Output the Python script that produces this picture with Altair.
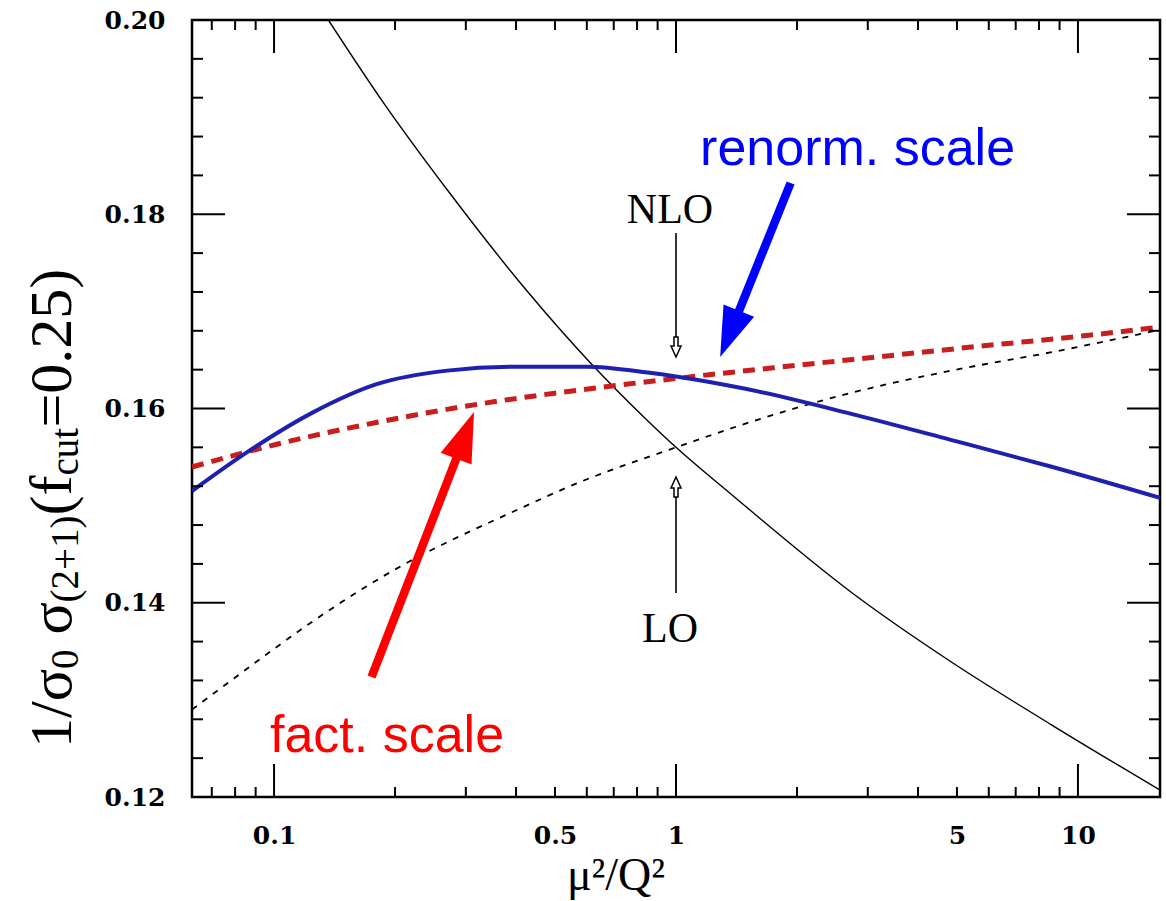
import altair as alt
import pandas as pd

# ---------------- data ----------------
# LO, renormalisation-scale variation (thin solid black)
lo_ren_x = [0.1365, 0.1852, 0.2723, 0.424, 0.6095, 0.8463, 1.0, 1.388, 2.723, 4.842, 8.61, 16.0]
lo_ren_y = [0.2000, 0.19176, 0.18229, 0.17220, 0.16479, 0.15882, 0.1560, 0.15099, 0.14111, 0.13390, 0.12741, 0.12072]

# LO, factorisation-scale variation (thin dashed black)
lo_fac_x = [0.0625, 0.0737, 0.0966, 0.124, 0.164, 0.216, 0.288, 0.385, 0.575, 1.0, 1.53, 2.72, 4.84, 8.6, 16.0]
lo_fac_y = [0.1290, 0.1312, 0.1348, 0.1380, 0.1413, 0.1442, 0.1468, 0.1492, 0.1524, 0.1560, 0.1586, 0.1616, 0.1639, 0.1658, 0.1681]

# NLO, renormalisation-scale variation (thick solid blue)
nlo_ren_x = [0.0625, 0.085, 0.125, 0.18, 0.27, 0.4, 0.6, 0.85, 1.0, 1.5, 2.7, 4.8, 8.6, 16.0]
nlo_ren_y = [0.1515, 0.1554, 0.1596, 0.1625, 0.1639, 0.1643, 0.1643, 0.1637, 0.1633, 0.1620, 0.1595, 0.1568, 0.1540, 0.1508]

# NLO, factorisation-scale variation (thick dashed red)
nlo_fac_x = [0.0625, 0.1023, 0.182, 0.3236, 0.5754, 1.023, 1.82, 3.236, 5.754, 10.23, 16.0]
nlo_fac_y = [0.15398, 0.15635, 0.15861, 0.16046, 0.16190, 0.16314, 0.16427, 0.16535, 0.16643, 0.16746, 0.16839]

# axis ticks / labels
x_label_vals = [0.1, 0.5, 1, 5, 10]
x_major = [0.1, 1, 10]
x_minor = [0.07, 0.08, 0.09, 0.2, 0.3, 0.4, 0.5, 0.6, 0.7, 0.8, 0.9,
           2, 3, 4, 5, 6, 7, 8, 9]
y_label_vals = [0.12, 0.14, 0.16, 0.18, 0.20]
y_major = [0.14, 0.16, 0.18]
y_minor = [0.124, 0.128, 0.132, 0.136, 0.144, 0.148, 0.152, 0.156,
           0.164, 0.168, 0.172, 0.176, 0.184, 0.188, 0.192, 0.196]

# arrows (data coordinates): tail, end of shaft, tip, head angle
big_arrows = pd.DataFrame({
    "x": [1.928, 0.1748], "y": [0.18322, 0.13235],
    "x2": [1.429, 0.2851], "y2": [0.16988, 0.15501],
    "tx": [1.288, 0.3144], "ty": [0.16530, 0.15964],
    "ang": [201.9, 21.0], "col": ["#0000ff", "#ff0000"],
})
small_arrows = pd.DataFrame({
    "x": [1.0, 1.0], "y": [0.17807, 0.14100], "y2": [0.16736, 0.15089],
    "ty": [0.16530, 0.15295], "ang": [180.0, 0.0],
})

# text labels
lbl_serif = pd.DataFrame({"t": ["NLO", "LO"], "x": [1.0, 1.0], "y": [0.17910, 0.13596]})
lbl_blue = pd.DataFrame({"t": ["renorm. scale"], "x": [1.148], "y": [0.18507]})
lbl_red = pd.DataFrame({"t": ["fact. scale"], "x": [0.0977], "y": [0.12463]})

# y-axis title pieces: text, font size, baseline x (px), start y (px)
ytitle_text = ["1/σ", "0", "σ", "(2+1)", "(f", "cut", "=0.25)"]
ytitle_size = [60, 39, 60, 39, 60, 39, 60]
ytitle_px = [-121, -114, -121, -114, -121, -114, -121]
ytitle_py = [728, 649, 614.5, 582.5, 495.5, 455.5, 407.5]

W, H = 968, 777
xs = alt.Scale(type="log", domain=[0.0625, 16], nice=False)
ys = alt.Scale(domain=[0.12, 0.20], nice=False, zero=False)

xaxis = alt.Axis(values=x_label_vals, format="~g", ticks=False, tickSize=0,
                 domain=False, grid=False, labelFont="DejaVu Serif",
                 labelFontSize=25, labelFontWeight="bold", labelColor="black",
                 labelPadding=26, labelFlush=False, title=None)
yaxis = alt.Axis(values=y_label_vals, format=".2f", ticks=False, tickSize=0,
                 domain=False, grid=False, labelFont="DejaVu Serif",
                 labelFontSize=25, labelFontWeight="bold", labelColor="black",
                 labelPadding=27, labelFlush=False, title=None)

X = lambda f: alt.X(f, type="quantitative", scale=xs, axis=xaxis)
Y = lambda f: alt.Y(f, type="quantitative", scale=ys, axis=yaxis)

layers = []


def curve(xv, yv, color, width, dash=None):
    df = pd.DataFrame({"x": xv, "y": yv})
    kw = dict(color=color, strokeWidth=width, interpolate="monotone", clip=True)
    if dash:
        kw["strokeDash"] = dash
    return alt.Chart(df).mark_line(**kw).encode(x=X("x"), y=Y("y"))


layers.append(curve(lo_ren_x, lo_ren_y, "black", 1.4))
layers.append(curve(lo_fac_x, lo_fac_y, "black", 1.8, [6, 7]))
layers.append(curve(nlo_fac_x, nlo_fac_y, "#c81e1e", 5, [12, 8]))
layers.append(curve(nlo_ren_x, nlo_ren_y, "#1f1fb0", 4))

# inward ticks
for vals, ln in [(x_major, 33), (x_minor, 10)]:
    df = pd.DataFrame({"x": vals})
    layers.append(alt.Chart(df).mark_rule(color="black", strokeWidth=2).encode(
        x=X("x"), y=alt.value(H), y2=alt.value(H - ln)))
    layers.append(alt.Chart(df).mark_rule(color="black", strokeWidth=2).encode(
        x=X("x"), y=alt.value(0), y2=alt.value(ln)))
for vals, ln in [(y_major, 33), (y_minor, 11)]:
    df = pd.DataFrame({"y": vals})
    layers.append(alt.Chart(df).mark_rule(color="black", strokeWidth=2).encode(
        y=Y("y"), x=alt.value(0), x2=alt.value(ln)))
    layers.append(alt.Chart(df).mark_rule(color="black", strokeWidth=2).encode(
        y=Y("y"), x=alt.value(W), x2=alt.value(W - ln)))

# big coloured arrows
layers.append(alt.Chart(big_arrows).mark_rule(strokeWidth=8.5, strokeCap="butt").encode(
    x=X("x"), y=Y("y"), x2="x2:Q", y2="y2:Q",
    color=alt.Color("col:N", scale=None)))
for i in range(len(big_arrows)):
    layers.append(alt.Chart(big_arrows.iloc[[i]]).mark_point(
        shape="M0,0L-0.66,2L0.66,2Z", filled=True, size=2500, opacity=1,
        strokeWidth=0, angle=float(big_arrows["ang"].iloc[i]),
        color=big_arrows["col"].iloc[i]).encode(x=X("tx"), y=Y("ty")))

# small LO / NLO arrows
layers.append(alt.Chart(small_arrows).mark_rule(color="black", strokeWidth=1.6).encode(
    x=X("x"), y=Y("y"), y2="y2:Q"))
for i in range(len(small_arrows)):
    layers.append(alt.Chart(small_arrows.iloc[[i]]).mark_point(
        shape="M0,0L-0.5,1.1L-0.2,1.1L-0.2,2L0.2,2L0.2,1.1L0.5,1.1Z",
        filled=False, size=400, opacity=1, color="black", strokeWidth=1.5,
        angle=float(small_arrows["ang"].iloc[i])).encode(x=X("x"), y=Y("ty")))

# text labels
layers.append(alt.Chart(lbl_serif).mark_text(
    font="Liberation Serif", fontSize=42, color="black", align="center",
    baseline="alphabetic", dx=-6).encode(x=X("x"), y=Y("y"), text="t:N"))
layers.append(alt.Chart(lbl_blue).mark_text(
    font="Liberation Sans", fontSize=52, color="#0000ff", align="left",
    baseline="alphabetic").encode(x=X("x"), y=Y("y"), text="t:N"))
layers.append(alt.Chart(lbl_red).mark_text(
    font="Liberation Sans", fontSize=52, color="#ff0000", align="left",
    baseline="alphabetic").encode(x=X("x"), y=Y("y"), text="t:N"))

# y-axis title, built from pieces (subscripts smaller and lowered)
for t, fs, px, py in zip(ytitle_text, ytitle_size, ytitle_px, ytitle_py):
    layers.append(alt.Chart(pd.DataFrame({"t": [t]})).mark_text(
        font="Liberation Serif", fontSize=fs, color="black", angle=270,
        align="left", baseline="alphabetic").encode(
        text="t:N", x=alt.value(px), y=alt.value(py)))

# x-axis title
layers.append(alt.Chart(pd.DataFrame({"t": ["μ²/Q²"]})).mark_text(
    font="Liberation Serif", fontSize=46, color="black", align="center",
    baseline="alphabetic").encode(text="t:N", x=alt.value(424), y=alt.value(870)))

chart = alt.layer(*layers).properties(
    width=W, height=H,
    padding={"left": 192, "top": 20, "right": 6, "bottom": 104},
    autosize=alt.AutoSizeParams(type="none"),
    background="white",
).configure_view(stroke="black", strokeWidth=2.5)

chart.save("out.html", embed_options={"renderer": "svg", "actions": False})
